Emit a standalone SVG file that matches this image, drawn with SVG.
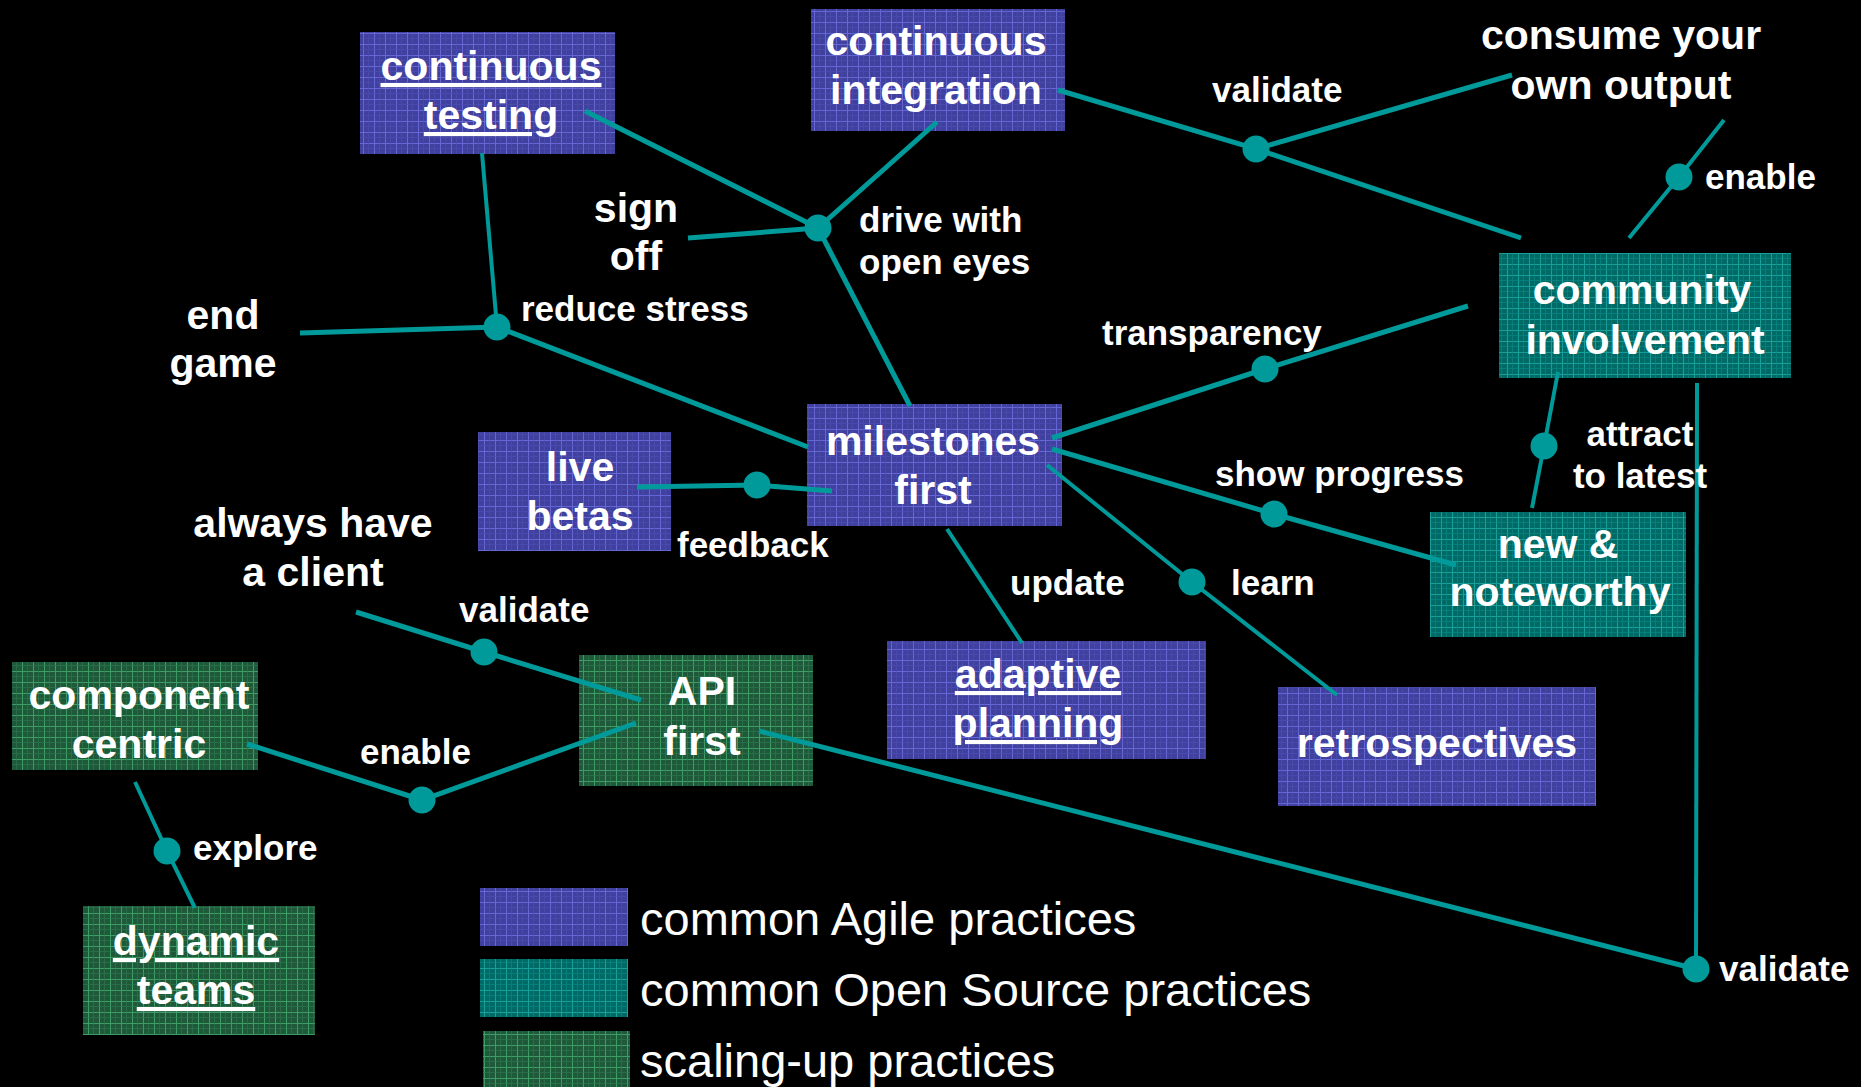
<svg xmlns="http://www.w3.org/2000/svg" width="1861" height="1087" viewBox="0 0 1861 1087">
<style>
text{fill:#fff;font-family:"Liberation Sans",Arial,sans-serif}
.b{font-weight:bold;font-size:41px;text-anchor:middle}
.u{text-decoration:underline}
.l{font-weight:bold;font-size:35px}
.lm{font-weight:bold;font-size:35px;text-anchor:middle}
.lg{font-size:47px}
.c{stroke:#009a9a;stroke-width:5;fill:none;stroke-linecap:butt}
.t{stroke:#009a9a;stroke-width:4;fill:none}
.d{fill:#009a9a}
</style>
<defs>
<pattern id="pb" patternUnits="userSpaceOnUse" width="11" height="11">
<rect width="11" height="11" fill="#40409e"/>
<rect x="0" y="0" width="11" height="1" fill="#6666d4"/>
<rect x="0" y="0" width="1" height="11" fill="#6666d4"/>
<rect x="5" y="0" width="1" height="11" fill="#4e4eb4" opacity="0.6"/>
<rect x="0" y="5" width="11" height="1" fill="#4e4eb4" opacity="0.6"/>
</pattern>
<pattern id="pt" patternUnits="userSpaceOnUse" width="11" height="11">
<rect width="11" height="11" fill="#006a66"/>
<rect x="0" y="0" width="11" height="1" fill="#17a09a"/>
<rect x="0" y="0" width="1" height="11" fill="#17a09a"/>
<rect x="5" y="0" width="1" height="11" fill="#0a8a85" opacity="0.6"/>
<rect x="0" y="5" width="11" height="1" fill="#0a8a85" opacity="0.6"/>
</pattern>
<pattern id="pg" patternUnits="userSpaceOnUse" width="11" height="11">
<rect width="11" height="11" fill="#1e5a3a"/>
<rect x="0" y="0" width="11" height="1" fill="#3e9c66"/>
<rect x="0" y="0" width="1" height="11" fill="#3e9c66"/>
<rect x="5" y="0" width="1" height="11" fill="#2f7a50" opacity="0.6"/>
<rect x="0" y="5" width="11" height="1" fill="#2f7a50" opacity="0.6"/>
</pattern>
</defs>
<rect width="1861" height="1087" fill="#000"/>

<g id="continuous-testing"><rect x="360" y="32" width="255" height="122" fill="url(#pb)"/><text class="b u" x="491" y="80">continuous</text><text class="b u" x="491" y="129">testing</text></g>
<g id="continuous-integration"><rect x="811" y="9" width="254" height="122" fill="url(#pb)"/><text class="b" x="936" y="55">continuous</text><text class="b" x="936" y="104">integration</text></g>
<g id="community-involvement"><rect x="1499" y="253" width="292" height="125" fill="url(#pt)"/><text class="b" x="1642" y="304">community</text><text class="b" x="1645" y="354">involvement</text></g>
<g id="milestones-first"><rect x="807" y="404" width="255" height="122" fill="url(#pb)"/><text class="b" x="933" y="455">milestones</text><text class="b" x="933" y="504">first</text></g>
<g id="live-betas"><rect x="478" y="432" width="193" height="119" fill="url(#pb)"/><text class="b" x="580" y="481">live</text><text class="b" x="580" y="530">betas</text></g>
<g id="new-noteworthy"><rect x="1430" y="512" width="256" height="125" fill="url(#pt)"/><text class="b" x="1558" y="558">new &amp;</text><text class="b" x="1560" y="606">noteworthy</text></g>
<g id="adaptive-planning"><rect x="887" y="641" width="319" height="118" fill="url(#pb)"/><text class="b u" x="1038" y="688">adaptive</text><text class="b u" x="1038" y="737">planning</text></g>
<g id="retrospectives"><rect x="1278" y="687" width="318" height="119" fill="url(#pb)"/><text class="b" x="1437" y="757">retrospectives</text></g>
<g id="api-first"><rect x="579" y="655" width="234" height="131" fill="url(#pg)"/><text class="b" x="702" y="705">API</text><text class="b" x="702" y="755">first</text></g>
<g id="component-centric"><rect x="12" y="662" width="246" height="108" fill="url(#pg)"/><text class="b" x="139" y="709">component</text><text class="b" x="139" y="758">centric</text></g>
<g id="dynamic-teams"><rect x="83" y="906" width="232" height="129" fill="url(#pg)"/><text class="b u" x="196" y="955">dynamic</text><text class="b u" x="196" y="1004">teams</text></g>

<g id="legend">
<rect x="480" y="888" width="148" height="58" fill="url(#pb)"/>
<rect x="480" y="959" width="148" height="58" fill="url(#pt)"/>
<rect x="483" y="1031" width="147" height="60" fill="url(#pg)"/>
<text class="lg" x="640" y="935">common Agile practices</text>
<text class="lg" x="640" y="1006">common Open Source practices</text>
<text class="lg" x="640" y="1077">scaling-up practices</text>
</g>

<g id="connectors">
<polyline class="c" points="585,111 818,228"/>
<polyline class="c" points="937,122 818,228"/>
<polyline class="c" points="688,238 818,228"/>
<polyline class="c" points="818,228 910,406"/>
<polyline class="t" points="482,153 497,327"/>
<polyline class="c" points="300,333 497,327 808,447"/>
<polyline class="c" points="637,487 757,485 832,491"/>
<polyline class="c" points="356,612 484,652 641,700"/>
<polyline class="c" points="247,744 422,800 636,723"/>
<polyline class="t" points="135,782 167,851 195,908"/>
<polyline class="c" points="759,731 1696,969"/>
<polyline class="t" points="1697,383 1696,969"/>
<polyline class="t" points="1558,372 1544,446 1532,508"/>
<polyline class="c" points="1058,90 1256,149 1512,75"/>
<polyline class="c" points="1256,149 1521,238"/>
<polyline class="t" points="1724,120 1679,177 1629,238"/>
<polyline class="c" points="1052,438 1265,369 1468,306"/>
<polyline class="c" points="1052,449 1274,514 1456,565"/>
<polyline class="t" points="1047,465 1192,582 1337,695"/>
<polyline class="t" points="947,529 1022,643"/>
<g class="d">
<circle cx="818" cy="228" r="13.5"/>
<circle cx="497" cy="327" r="13.5"/>
<circle cx="1256" cy="149" r="13.5"/>
<circle cx="1679" cy="177" r="13.5"/>
<circle cx="1265" cy="369" r="13.5"/>
<circle cx="757" cy="485" r="13.5"/>
<circle cx="1274" cy="514" r="13.5"/>
<circle cx="1192" cy="582" r="13.5"/>
<circle cx="1544" cy="446" r="13.5"/>
<circle cx="484" cy="652" r="13.5"/>
<circle cx="422" cy="800" r="13.5"/>
<circle cx="167" cy="851" r="13.5"/>
<circle cx="1696" cy="969" r="13.5"/>
</g>
</g>

<g id="labels">
<text class="b" x="636" y="222">sign</text><text class="b" x="636" y="270">off</text>
<text class="b" x="223" y="329">end</text><text class="b" x="223" y="377">game</text>
<text class="b" x="313" y="537">always have</text><text class="b" x="313" y="586">a client</text>
<text class="b" x="1621" y="49">consume your</text><text class="b" x="1621" y="99">own output</text>
<text class="l" x="1212" y="102">validate</text>
<text class="l" x="1705" y="189">enable</text>
<text class="l" x="859" y="232">drive with</text><text class="l" x="859" y="274">open eyes</text>
<text class="l" x="521" y="321">reduce stress</text>
<text class="l" x="1102" y="345">transparency</text>
<text class="l" x="677" y="557">feedback</text>
<text class="l" x="1215" y="486">show progress</text>
<text class="lm" x="1640" y="446">attract</text><text class="lm" x="1640" y="488">to latest</text>
<text class="l" x="1010" y="595">update</text>
<text class="l" x="1231" y="595">learn</text>
<text class="l" x="459" y="622">validate</text>
<text class="l" x="360" y="764">enable</text>
<text class="l" x="193" y="860">explore</text>
<text class="l" x="1719" y="981">validate</text>
</g>
</svg>
